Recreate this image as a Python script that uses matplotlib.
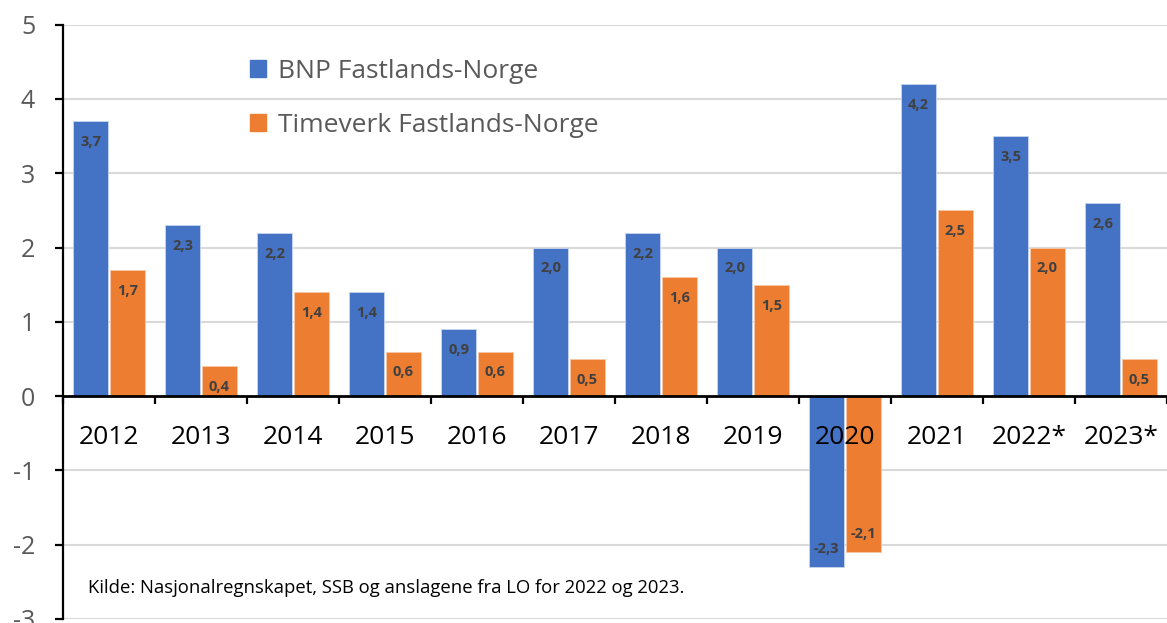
import matplotlib
matplotlib.use("Agg")
import matplotlib.pyplot as plt
import numpy as np
from matplotlib.patches import Patch

years = ["2012", "2013", "2014", "2015", "2016", "2017", "2018", "2019", "2020", "2021", "2022*", "2023*"]
bnp = [3.7, 2.3, 2.2, 1.4, 0.9, 2.0, 2.2, 2.0, -2.3, 4.2, 3.5, 2.6]
timeverk = [1.7, 0.4, 1.4, 0.6, 0.6, 0.5, 1.6, 1.5, -2.1, 2.5, 2.0, 0.5]
series_names = ["BNP Fastlands-Norge", "Timeverk Fastlands-Norge"]
source = "Kilde: Nasjonalregnskapet, SSB og anslagene fra LO for 2022 og 2023."

plt.rcParams['font.family'] = ['Open Sans', 'DejaVu Sans']

W, H = 1167, 623
fig = plt.figure(figsize=(W / 100, H / 100), dpi=100)
ax = fig.add_axes([63 / W, (H - 619) / H, (1167 - 63) / W, (619 - 24.7) / H])

x = np.arange(len(years))
bw = 0.38
blue = "#4472C4"
orange = "#ED7D31"
b1 = ax.bar(x - 0.2, bnp, bw, color=blue, edgecolor="#c9d6ee", linewidth=0.6, zorder=2)
b2 = ax.bar(x + 0.2, timeverk, bw, color=orange, edgecolor="#f7c9a8", linewidth=0.6, zorder=2)

ax.set_xlim(-0.5, len(years) - 0.5)
ax.set_ylim(-3, 5)

# gridlines
for yv in range(-3, 6):
    if yv != 0:
        ax.axhline(yv, color="#d9d9d9", linewidth=1.5, zorder=0)

# bar labels
for bars, vals in ((b1, bnp), (b2, timeverk)):
    for rect, v in zip(bars, vals):
        cx = rect.get_x() + rect.get_width() / 2
        off = -15 if v >= 0 else 13
        ax.annotate(f"{v:.1f}".replace(".", ","), (cx, v), xytext=(0, off),
                    textcoords="offset points", ha="center", va="center",
                    fontsize=10.5, fontweight="bold", color="#404040", zorder=4)

# year labels
for i, lab in enumerate(years):
    ax.annotate(lab, (i, 0), xytext=(0, -30), textcoords="offset points",
                ha="center", va="center", fontsize=19, color="black", zorder=5)

# spines
for s in ("top", "right"):
    ax.spines[s].set_visible(False)
ax.spines["bottom"].set_position(("data", 0))
ax.spines["bottom"].set_linewidth(2)
ax.spines["bottom"].set_zorder(3)
ax.spines["left"].set_linewidth(1.6)

ax.set_xticks(np.arange(len(years) + 1) - 0.5)
ax.set_xticklabels([])
ax.tick_params(axis="x", direction="out", length=6, width=1.6, color="black")

ax.set_yticks(range(-3, 6))
ax.set_yticklabels([str(v) for v in range(-3, 6)])
ax.tick_params(axis="y", direction="out", length=6, width=1.6, color="black",
               labelsize=18, labelcolor="#595959", pad=14)

# legend
handles = [Patch(facecolor=blue, edgecolor=blue), Patch(facecolor=orange, edgecolor=orange)]
leg = ax.legend(handles, series_names, loc="upper left", bbox_to_anchor=(0.148, 0.982),
                frameon=False, fontsize=19, labelcolor="#595959",
                handlelength=0.6, handleheight=0.6, handletextpad=0.45, labelspacing=1.1)

ax.text(88 / W, (623 - 588) / H, source, transform=fig.transFigure, fontsize=13.3,
        color="black", ha="left", va="center")

fig.savefig("out.png", dpi=100)
